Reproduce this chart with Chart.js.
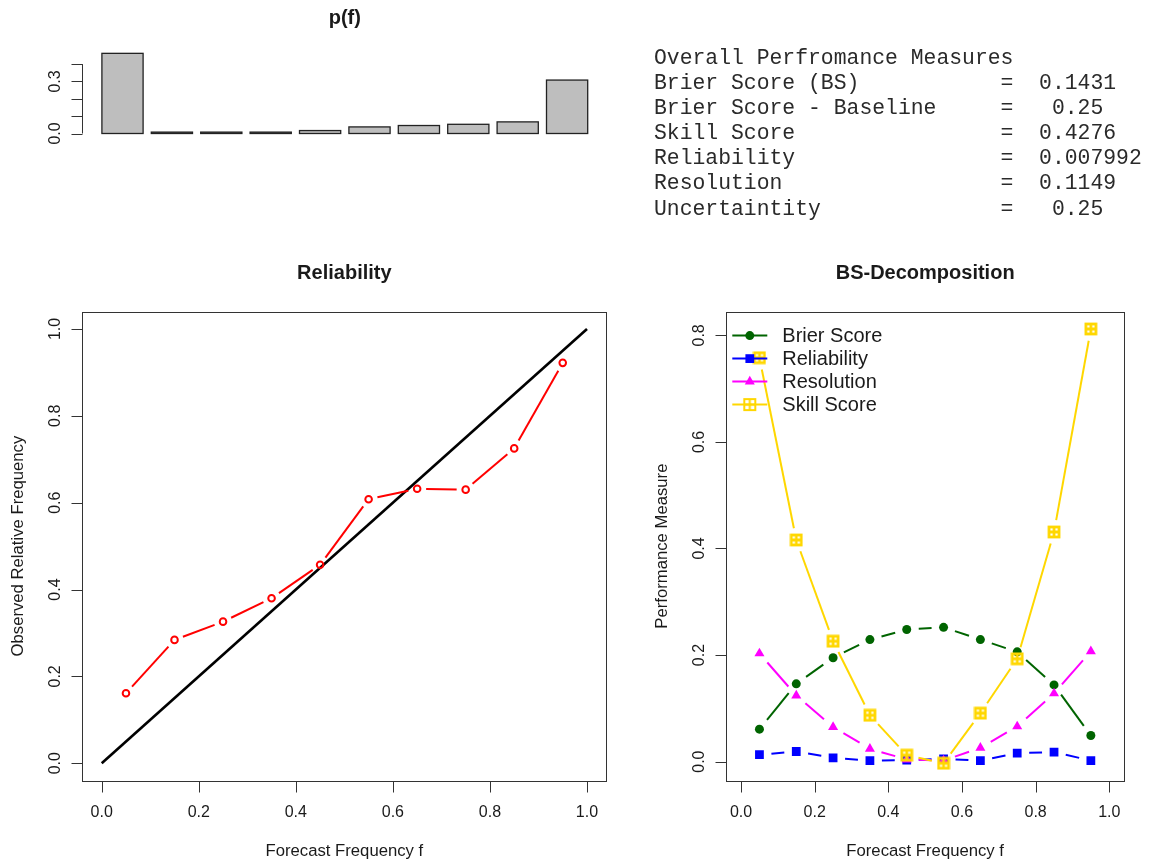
<!DOCTYPE html>
<html>
<head>
<meta charset="utf-8">
<script src="https://cdn.jsdelivr.net/npm/chart.js@4/dist/chart.umd.min.js"></script>
<style>
  html, body { margin: 0; padding: 0; background: #ffffff; }
  #wrap { position: relative; width: 1151px; height: 867px; overflow: hidden; background: #fff; }
  #wrap canvas { position: absolute; left: 0; top: 0; }
  #stats { position: absolute; left: 654px; top: 46px; margin: 0;
           font-family: "Liberation Mono", "Courier New", monospace; font-size: 21.4px;
           line-height: 25.1px; color: #2a2a2a; white-space: pre; }
</style>
</head>
<body>
<div id="wrap">
  <canvas id="cPf" width="1151" height="867"></canvas>
  <canvas id="cRel" width="1151" height="867"></canvas>
  <canvas id="cBs" width="1151" height="867"></canvas>
  <pre id="stats"></pre>
</div>
<script>
// ---------------- data ----------------
const binCenters = [0.05, 0.15, 0.25, 0.35, 0.45, 0.55, 0.65, 0.75, 0.85, 0.95];
const pf = [0.462, 0.008, 0.008, 0.008, 0.017, 0.038, 0.046, 0.053, 0.067, 0.308];
const pfTicks = [0, 0.1, 0.2, 0.3, 0.4];
const pfTickLabels = ["0.0", "", "", "0.3", ""];

const diagX = [0, 1];
const diagY = [0, 1];
const obsFreq = [0.161, 0.284, 0.326, 0.380, 0.457, 0.608, 0.632, 0.630, 0.725, 0.922];
const freqTicks = [0, 0.2, 0.4, 0.6, 0.8, 1.0];
const freqTickLabels = ["0.0", "0.2", "0.4", "0.6", "0.8", "1.0"];

const brier = [0.061, 0.146, 0.195, 0.229, 0.248, 0.252, 0.229, 0.206, 0.144, 0.049];
const relia = [0.013, 0.019, 0.007, 0.002, 0.003, 0.005, 0.002, 0.016, 0.018, 0.002];
const resol = [0.203, 0.124, 0.065, 0.024, 0.004, 0.002, 0.026, 0.066, 0.128, 0.207];
const skill = [0.758, 0.416, 0.226, 0.087, 0.012, -0.003, 0.091, 0.193, 0.431, 0.812];
const bsTicks = [0, 0.2, 0.4, 0.6, 0.8];
const bsTickLabels = ["0.0", "0.2", "0.4", "0.6", "0.8"];
const seriesNames = ["Brier Score", "Reliability", "Resolution", "Skill Score"];

const statsTitle = "Overall Perfromance Measures";
const statNames = ["Brier Score (BS)", "Brier Score - Baseline", "Skill Score", "Reliability", "Resolution", "Uncertaintity"];
const statValues = ["0.1431", " 0.25", "0.4276", "0.007992", "0.1149", " 0.25"];

// ---------------- text block ----------------
document.getElementById('stats').textContent =
  [statsTitle].concat(statNames.map((n, i) => n.padEnd(27) + "=  " + statValues[i])).join("\n");

// ---------------- helpers ----------------
const SANS = '"Liberation Sans", Arial, sans-serif';
const TXT = '#1a1a1a';
const AX = '#333';

function rangeExt(vals) {
  const lo = Math.min(...vals), hi = Math.max(...vals), p = (hi - lo) * 0.04;
  return [lo - p, hi + p];
}

// line with gaps around points (R type = "b"), lengths from the chart's own scales
function gapDash(gap) {
  return (ctx) => {
    const ch = ctx.chart;
    const d = ch.data.datasets[ctx.datasetIndex].data;
    const a = d[ctx.p0DataIndex], b = d[ctx.p1DataIndex];
    const xs = ch.scales.x, ys = ch.scales.y;
    const dx = xs.getPixelForValue(b.x) - xs.getPixelForValue(a.x);
    const dy = ys.getPixelForValue(b.y) - ys.getPixelForValue(a.y);
    const L = Math.hypot(dx, dy);
    const uniq = 1000 + ctx.p0DataIndex;
    if (!isFinite(L)) return [];
    if (L <= 2 * gap) return [0, uniq];
    return [0, gap, L - 2 * gap, uniq];
  };
}

function makeSkillMarker(size, lw) {
  const c = document.createElement('canvas');
  c.width = size + 4; c.height = size + 4;
  const g = c.getContext('2d');
  g.strokeStyle = '#FFD700'; g.lineWidth = lw;
  const o = 2, s = size;
  g.strokeRect(o, o, s, s);
  g.beginPath();
  g.moveTo(o + s / 2, o); g.lineTo(o + s / 2, o + s);
  g.moveTo(o, o + s / 2); g.lineTo(o + s, o + s / 2);
  g.stroke();
  return c;
}
const skillMarker = makeSkillMarker(10, 2.8);
const skillLegendMarker = makeSkillMarker(11, 2);

function drawMarker(ctx, style, r, x, y, color) {
  ctx.save();
  ctx.fillStyle = color;
  if (style instanceof HTMLCanvasElement) {
    ctx.drawImage(style, x - style.width / 2, y - style.height / 2);
  } else if (style === 'circle') {
    ctx.beginPath(); ctx.arc(x, y, r, 0, Math.PI * 2); ctx.fill();
  } else if (style === 'rect') {
    const s = r * Math.SQRT1_2; ctx.fillRect(x - s, y - s, 2 * s, 2 * s);
  } else if (style === 'triangle') {
    ctx.beginPath();
    ctx.moveTo(x, y - r);
    ctx.lineTo(x + r * 0.866, y + r * 0.5);
    ctx.lineTo(x - r * 0.866, y + r * 0.5);
    ctx.closePath(); ctx.fill();
  }
  ctx.restore();
}

// R-style bar outlines (stroke centred on the bar edges)
const rBarBorder = {
  id: 'rBarBorder',
  afterDatasetsDraw(chart, args, o) {
    if (!o.show) return;
    const ctx = chart.ctx;
    ctx.save();
    ctx.strokeStyle = o.color; ctx.lineWidth = o.width;
    chart.getDatasetMeta(0).data.forEach(bar => {
      const p = bar.getProps(['x', 'y', 'base', 'width'], true);
      ctx.strokeRect(p.x - p.width / 2, p.y, p.width, p.base - p.y);
    });
    ctx.restore();
  }
};

// R-style axes, box and titles
const rAxes = {
  id: 'rAxes',
  afterDraw(chart, args, o) {
    const ctx = chart.ctx, a = chart.chartArea, xs = chart.scales.x, ys = chart.scales.y;
    ctx.save();
    ctx.strokeStyle = AX; ctx.fillStyle = TXT; ctx.lineWidth = 1;
    if (o.box) {
      ctx.strokeRect(Math.round(a.left) + 0.5, Math.round(a.top) + 0.5,
        Math.round(a.right) - Math.round(a.left), Math.round(a.bottom) - Math.round(a.top));
    }
    if (o.xTicks) {
      const y0 = Math.round(a.bottom) + 0.5;
      const px = o.xTicks.map(v => xs.getPixelForValue(v));
      ctx.beginPath();
      ctx.moveTo(px[0], y0); ctx.lineTo(px[px.length - 1], y0);
      px.forEach(p => { ctx.moveTo(Math.round(p) + 0.5, y0); ctx.lineTo(Math.round(p) + 0.5, y0 + 11); });
      ctx.stroke();
      ctx.font = '16px ' + SANS; ctx.textAlign = 'center'; ctx.textBaseline = 'middle';
      px.forEach((p, i) => ctx.fillText(o.xLabels[i], p, a.bottom + 32));
    }
    if (o.yTicks) {
      const x0 = Math.round(o.yAxisX !== undefined ? o.yAxisX : a.left) + 0.5;
      const py = o.yTicks.map(v => ys.getPixelForValue(v));
      ctx.beginPath();
      ctx.moveTo(x0, py[0]); ctx.lineTo(x0, py[py.length - 1]);
      py.forEach(p => { ctx.moveTo(x0, Math.round(p) + 0.5); ctx.lineTo(x0 - 11, Math.round(p) + 0.5); });
      ctx.stroke();
      ctx.font = '16px ' + SANS; ctx.textAlign = 'center'; ctx.textBaseline = 'middle';
      py.forEach((p, i) => {
        if (!o.yLabels[i]) return;
        ctx.save(); ctx.translate(x0 - 27, p); ctx.rotate(-Math.PI / 2);
        ctx.fillText(o.yLabels[i], 0, 0); ctx.restore();
      });
    }
    const cx = (a.left + a.right) / 2;
    if (o.title) {
      ctx.font = 'bold 20px ' + SANS; ctx.textAlign = 'center'; ctx.textBaseline = 'middle';
      ctx.fillText(o.title, cx, o.titleY);
    }
    if (o.xTitle) {
      ctx.font = '16.7px ' + SANS; ctx.textAlign = 'center'; ctx.textBaseline = 'middle';
      ctx.fillText(o.xTitle, cx, o.xTitleY);
    }
    if (o.yTitle) {
      ctx.font = '16.7px ' + SANS; ctx.textAlign = 'center'; ctx.textBaseline = 'middle';
      ctx.save(); ctx.translate(a.left - 64, (a.top + a.bottom) / 2); ctx.rotate(-Math.PI / 2);
      ctx.fillText(o.yTitle, 0, 0); ctx.restore();
    }
    ctx.restore();
  }
};

// R-style legend (topleft, no box)
const rLegend = {
  id: 'rLegend',
  afterDatasetsDraw(chart, args, o) {
    if (!o.show) return;
    const ctx = chart.ctx, a = chart.chartArea;
    ctx.save();
    o.items.forEach((it, i) => {
      const ds = chart.data.datasets[it];
      const y = a.top + 24 + i * 23;
      ctx.strokeStyle = ds.borderColor; ctx.lineWidth = ds.borderWidth;
      ctx.beginPath(); ctx.moveTo(a.left + 6, y); ctx.lineTo(a.left + 41, y); ctx.stroke();
      drawMarker(ctx, ds.legendStyle || ds.pointStyle, ds.pointRadius, a.left + 23.5, y, ds.borderColor);
      ctx.fillStyle = TXT; ctx.font = '20px ' + SANS;
      ctx.textAlign = 'left'; ctx.textBaseline = 'middle';
      ctx.fillText(ds.label, a.left + 56, y + 1);
    });
    ctx.restore();
  }
};

Chart.register(rAxes, rLegend, rBarBorder);
const W = 1151, H = 867;

// ---------------- p(f) bar chart ----------------
new Chart(document.getElementById('cPf'), {
  type: 'bar',
  data: {
    labels: binCenters.map(String),
    datasets: [{
      data: pf,
      backgroundColor: '#BEBEBE',
      borderWidth: 0,
      barPercentage: 0.834,
      categoryPercentage: 1.0
    }]
  },
  options: {
    responsive: false, animation: false, devicePixelRatio: 1,
    layout: { padding: { left: 97.8, right: W - 591.8, top: 133 - 0.5 * 172.5, bottom: H - 133.5 } },
    scales: {
      x: { display: false },
      y: { display: false, min: 0, max: 0.5 }
    },
    plugins: {
      legend: { display: false }, tooltip: { enabled: false },
      rAxes: { yTicks: pfTicks, yLabels: pfTickLabels, yAxisX: 82, title: 'p(f)', titleY: 18 },
      rLegend: { show: false },
      rBarBorder: { show: true, color: '#222', width: 1.3 }
    }
  }
});

// ---------------- Reliability diagram ----------------
const relX = rangeExt(diagX), relY = rangeExt(diagY);
new Chart(document.getElementById('cRel'), {
  type: 'line',
  data: {
    datasets: [
      {
        label: 'Observed',
        data: binCenters.map((x, i) => ({ x, y: obsFreq[i] })),
        borderColor: '#FF0000', borderWidth: 2, borderCapStyle: 'butt',
        pointStyle: 'circle', pointRadius: 3.3, pointBorderWidth: 2,
        pointBorderColor: '#FF0000', pointBackgroundColor: 'rgba(0,0,0,0)',
        tension: 0, order: 0,
        segment: { borderDash: gapDash(9) }
      },
      {
        label: 'Perfect',
        data: diagX.map((x, i) => ({ x, y: diagY[i] })),
        borderColor: '#000000', borderWidth: 2.6, pointRadius: 0, tension: 0, order: 1
      }
    ]
  },
  options: {
    responsive: false, animation: false, devicePixelRatio: 1,
    layout: { padding: { left: 82.3, right: W - 606.4, top: 311.6, bottom: H - 780.6 } },
    scales: {
      x: { type: 'linear', display: false, min: relX[0], max: relX[1] },
      y: { type: 'linear', display: false, min: relY[0], max: relY[1] }
    },
    plugins: {
      legend: { display: false }, tooltip: { enabled: false },
      rAxes: {
        box: true, xTicks: freqTicks, xLabels: freqTickLabels, yTicks: freqTicks, yLabels: freqTickLabels,
        title: 'Reliability', titleY: 273, xTitle: 'Forecast Frequency f', xTitleY: 851,
        yTitle: 'Observed Relative Frequency'
      },
      rLegend: { show: false }, rBarBorder: { show: false }
    }
  }
});

// ---------------- BS decomposition ----------------
const bsY = rangeExt([...brier, ...relia, ...resol, ...skill]);
function bsSeries(label, vals, color, style, r, order, legendStyle) {
  return {
    label, data: binCenters.map((x, i) => ({ x, y: vals[i] })),
    borderColor: color, backgroundColor: color, borderWidth: 2, borderCapStyle: 'butt',
    pointStyle: style, pointRadius: r, pointBorderWidth: 0, legendStyle,
    pointBackgroundColor: color, pointBorderColor: color,
    tension: 0, order, segment: { borderDash: gapDash(12) }
  };
}
new Chart(document.getElementById('cBs'), {
  type: 'line',
  data: {
    datasets: [
      bsSeries(seriesNames[0], brier, '#006400', 'circle', 4.5, 4),
      bsSeries(seriesNames[1], relia, '#0000FF', 'rect', 6.2, 3),
      bsSeries(seriesNames[2], resol, '#FF00FF', 'triangle', 5.8, 2),
      bsSeries(seriesNames[3], skill, '#FFD700', skillMarker, 6, 1, skillLegendMarker)
    ]
  },
  options: {
    responsive: false, animation: false, devicePixelRatio: 1,
    layout: { padding: { left: 726.3, right: W - 1124, top: 311.6, bottom: H - 780.6 } },
    scales: {
      x: { type: 'linear', display: false, min: relX[0], max: relX[1] },
      y: { type: 'linear', display: false, min: bsY[0], max: bsY[1] }
    },
    plugins: {
      legend: { display: false }, tooltip: { enabled: false },
      rAxes: {
        box: true, xTicks: freqTicks, xLabels: freqTickLabels, yTicks: bsTicks, yLabels: bsTickLabels,
        title: 'BS-Decomposition', titleY: 273, xTitle: 'Forecast Frequency f', xTitleY: 851,
        yTitle: 'Performance Measure'
      },
      rLegend: { show: true, items: [0, 1, 2, 3] }, rBarBorder: { show: false }
    }
  }
});
</script>
</body>
</html>
